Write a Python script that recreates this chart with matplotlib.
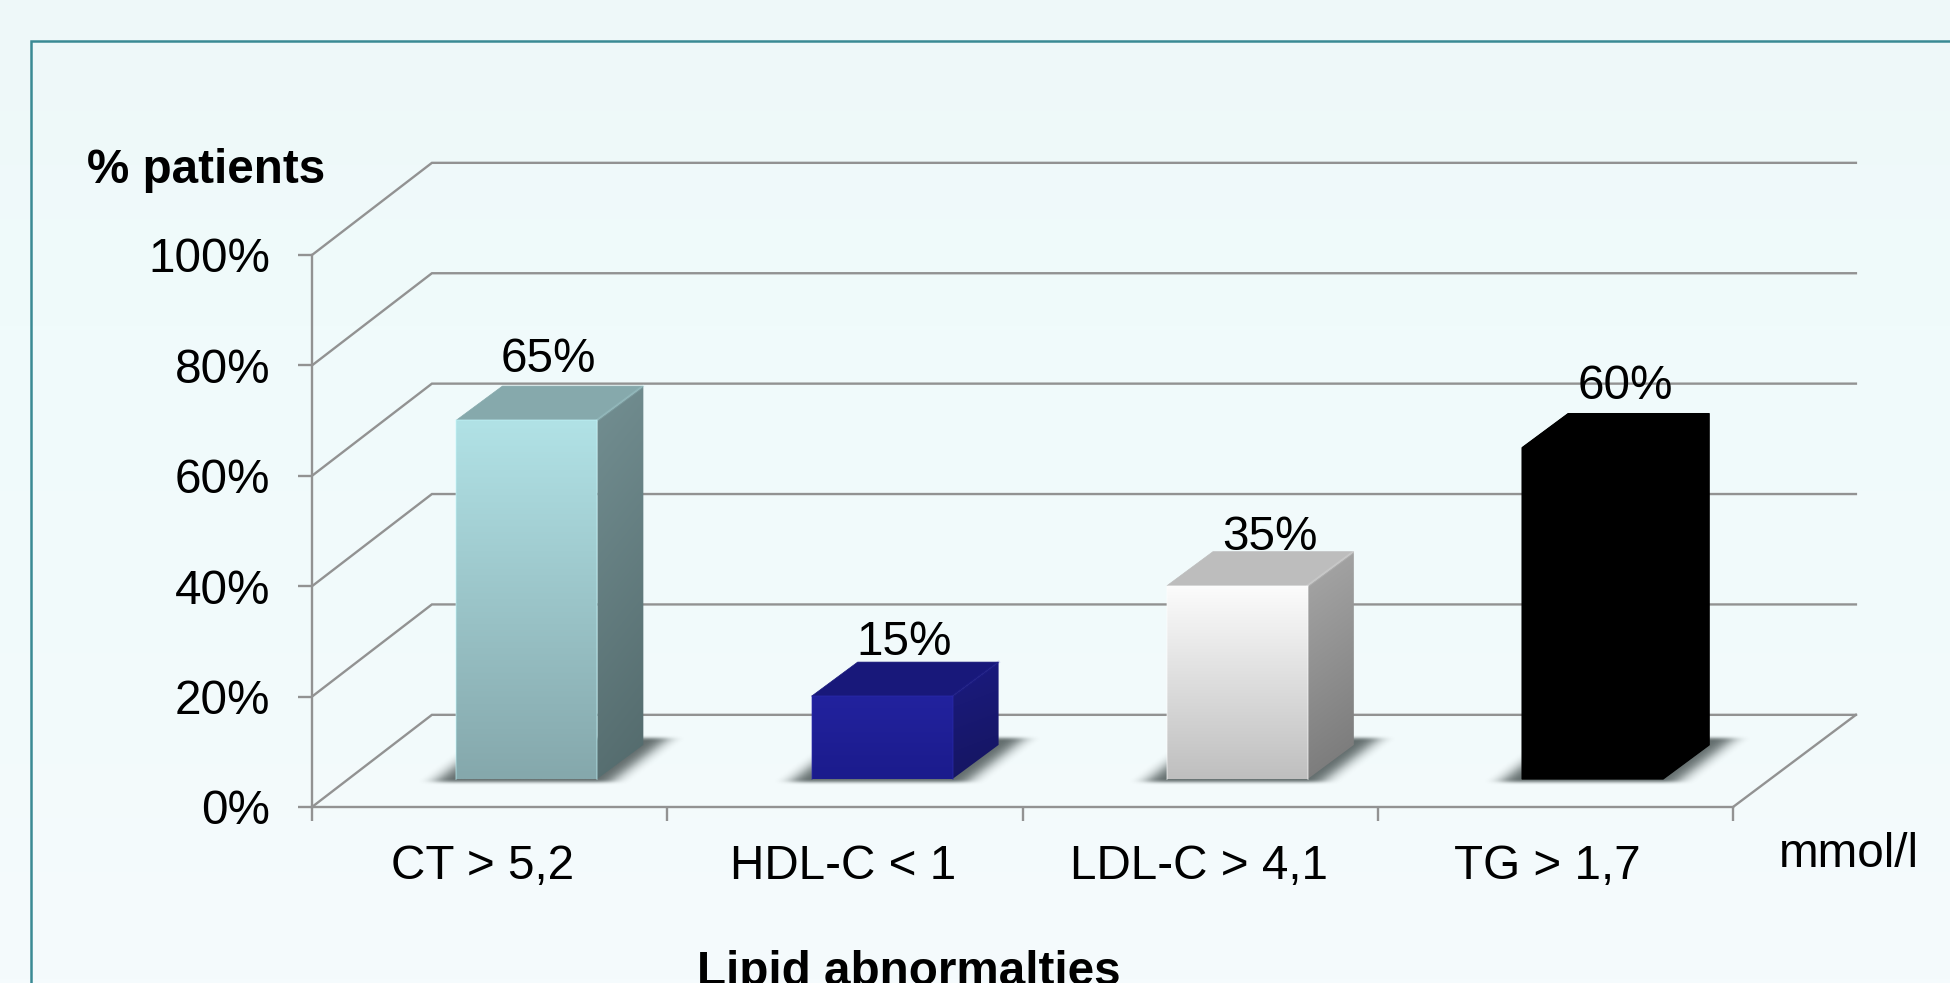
import numpy as np
import matplotlib
matplotlib.use('Agg')
import matplotlib.pyplot as plt
from matplotlib.colors import LinearSegmentedColormap, to_rgb
from matplotlib.patches import Polygon
from matplotlib.path import Path

plt.rcParams['font.family'] = ['Liberation Sans', 'DejaVu Sans']

categories = ['CT > 5,2', 'HDL-C < 1', 'LDL-C > 4,1', 'TG > 1,7']
values = [65, 15, 35, 60]
y_ticks = [0, 20, 40, 60, 80, 100]
y_tick_labels = ['0%', '20%', '40%', '60%', '80%', '100%']

# front gradient (top, bottom), top face, side gradient (top, bottom)
front_colors = [('#b1e2e6', '#85a8ac'), ('#22229e', '#1b1b8c'), ('#fcfcfc', '#bfbfbf'), ('#000000', '#000000')]
top_colors = ['#86a9ac', '#18187a', '#bdbdbd', '#000000']
side_colors = [('#738f92', '#536a6c'), ('#1b1b80', '#15155f'), ('#a8a8a8', '#777777'), ('#000000', '#000000')]

W, H = 1950, 983
GRID = '#929292'
FONT = 34.3

# oblique projection, one depth unit moves right and up by the floor's depth
FLOOR_DX = 120 / 355.5
FLOOR_DX_RIGHT = 123 / 355.5
FLOOR_DY = 92 / 5.51
BAR_WIDTH = 141 / 355.5
BAR_OFFSET = (144 - 36) / 355.5
BAR_FRONT = 28 / 92
BAR_BACK = (28 + 34) / 92
BAR_SKEW = 1.7 / 355.5

# label placement in axis units
value_dx = [0.164, 0.168, 0.198, 0.196]
value_dy = [13.8, 12.6, 11.5, 14.0]
category_dx = [-0.02, -0.006, -0.003, -0.022]


def project(x, y, d):
    return x + d * FLOOR_DX, y + d * FLOOR_DY


def gradient_patch(ax, corners, c0, c1, angle=0.0, zorder=3):
    # fill a polygon with a linear gradient running from top to bottom
    xs, ys = zip(*corners)
    grad = np.linspace(0, 1, 200)[:, None]
    if angle:
        u = np.linspace(0, 1, 60)
        grad = (grad + angle * u[None, :]) / (1 + angle)
    cmap = LinearSegmentedColormap.from_list('g', [c0, c1])
    poly = Polygon(corners, closed=True, transform=ax.transData, fc='none', ec='none')
    ax.add_patch(poly)
    im = ax.imshow(grad, cmap=cmap, vmin=0, vmax=1, aspect='auto', origin='upper',
                   extent=(min(xs), max(xs), min(ys), max(ys)), zorder=zorder,
                   interpolation='bilinear')
    im.set_clip_path(poly)


def box_blur(a, nx, ny):
    kx = np.ones(nx) / nx
    ky = np.ones(ny) / ny
    for _ in range(2):
        a = np.apply_along_axis(lambda r: np.convolve(r, ky, mode='same'), 0, a)
        a = np.apply_along_axis(lambda r: np.convolve(r, kx, mode='same'), 1, a)
    return a


def floor_shadow(ax, i):
    # soft shadow lying on the floor, wide fade sideways and a tight one in depth
    left = i + BAR_OFFSET
    right = left + BAR_WIDTH
    d0 = BAR_FRONT - 0.035
    d1 = BAR_BACK + 0.075
    outline = [project(left - 0.05, 0, d0), project(right + 0.05, 0, d0),
               project(right + 0.05, 0, d1), project(left - 0.05, 0, d1)]
    xs, ys = zip(*outline)
    ex = (min(xs) - 0.2, max(xs) + 0.2, min(ys) - 3, max(ys) + 3)
    gx, gy = np.meshgrid(np.linspace(ex[0], ex[1], 480), np.linspace(ex[2], ex[3], 110))
    inside = Path(outline).contains_points(np.c_[gx.ravel(), gy.ravel()]).reshape(gx.shape)
    alpha = box_blur(inside.astype(float), 25, 5)
    rgba = np.zeros(gx.shape + (4,))
    rgba[..., :3] = to_rgb('#4a5555')
    rgba[..., 3] = alpha * 0.85
    ax.imshow(rgba, origin='lower', aspect='auto', extent=ex, zorder=2,
              interpolation='bilinear', clip_on=False)


def draw_bar(ax, i, value):
    left = i + BAR_OFFSET
    right = left + BAR_WIDTH
    fb_l = project(left, 0, BAR_FRONT)
    fb_r = project(right, 0, BAR_FRONT)
    ft_l = project(left, value, BAR_FRONT)
    ft_r = project(right, value, BAR_FRONT)
    bb_r = project(right + BAR_SKEW, 0, BAR_BACK)
    bt_l = project(left + BAR_SKEW, value, BAR_BACK)
    bt_r = project(right + BAR_SKEW, value, BAR_BACK)

    floor_shadow(ax, i)
    gradient_patch(ax, [fb_r, bb_r, bt_r, ft_r], side_colors[i][0], side_colors[i][1], angle=0.15)
    ax.add_patch(Polygon([ft_l, ft_r, bt_r, bt_l], closed=True, fc=top_colors[i],
                         ec=top_colors[i], lw=0.5, zorder=3))
    gradient_patch(ax, [fb_l, fb_r, ft_r, ft_l], front_colors[i][0], front_colors[i][1], zorder=4)

    if i == 3:
        # black bar reads as one silhouette with rounded corners
        ax.add_patch(Polygon([fb_l, fb_r, bb_r, bt_r, bt_l, ft_l], closed=True, fc='black',
                             ec='black', lw=1, joinstyle='round', zorder=5))
    else:
        # faint lighter rim on the front face and on the top's right ridge
        edge = tuple(min(1, c * 1.06 + 0.03) for c in to_rgb(front_colors[i][0]))
        ax.plot([fb_l[0], ft_l[0], ft_r[0], fb_r[0]], [fb_l[1], ft_l[1], ft_r[1], fb_r[1]],
                color=edge, lw=1.2, alpha=0.4, solid_joinstyle='round', zorder=5)
        ax.plot([ft_r[0], bt_r[0]], [ft_r[1], bt_r[1]], color=edge, lw=2, alpha=0.15, zorder=5)


fig = plt.figure(figsize=(W / 100, H / 100), dpi=100)

# page background and frame
bg = fig.add_axes([0, 0, 1, 1], zorder=0)
bg_cmap = LinearSegmentedColormap.from_list('bg', ['#eef8f9', '#f0fbfb', '#f2fafb', '#f5fbfd'])
bg.imshow(np.linspace(0, 1, 256)[:, None], cmap=bg_cmap, aspect='auto', extent=(0, W, H, 0))
bg.plot([31, 31, W], [H, 41, 41], color='#3a8a94', lw=1.8, solid_joinstyle='miter')
bg.set_xlim(0, W)
bg.set_ylim(H, 0)
bg.axis('off')

ax = fig.add_axes([312 / W, (H - 807) / H, (1733 - 312) / W, (807 - 255) / H], zorder=1)
ax.patch.set_alpha(0)

n = len(categories)

# back wall gridlines, side wall diagonals, floor edge
for t in y_ticks:
    bx, by = project(0, t, 1)
    ex = n + FLOOR_DX_RIGHT
    ax.plot([0, bx, ex], [t, by, by], color=GRID, lw=1.7, zorder=1, clip_on=False,
            solid_joinstyle='miter')
fy = project(n, 0, 1)[1]
ax.plot([n, n + FLOOR_DX_RIGHT], [0, fy], color=GRID, lw=1.7, zorder=1, clip_on=False)

for i, v in enumerate(values):
    draw_bar(ax, i, v)
    ax.text(i + 0.5 + value_dx[i], v + value_dy[i], f'{v}%', ha='center', va='baseline',
            fontsize=FONT, color='black', zorder=6)
    ax.annotate(categories[i], (i + 0.5 + category_dx[i], 0), xytext=(0, -51.5),
                textcoords='offset points', ha='center', va='baseline', fontsize=FONT,
                annotation_clip=False)

ax.set_xlim(0, n)
ax.set_ylim(0, 100)
for side in ('top', 'right'):
    ax.spines[side].set_visible(False)
for side in ('left', 'bottom'):
    ax.spines[side].set_color(GRID)
    ax.spines[side].set_linewidth(1.7)
ax.set_xticks(np.arange(n + 1))
ax.set_xticklabels([])
ax.set_yticks(y_ticks)
ax.set_yticklabels(y_tick_labels, fontsize=FONT)
ax.tick_params(axis='x', length=10, width=1.7, color=GRID)
ax.tick_params(axis='y', length=10, width=1.7, color=GRID, pad=19.8)

fig.text(87 / W, 1 - 183 / H, '% patients', fontsize=FONT, fontweight='bold', va='baseline')
fig.text(1779 / W, 1 - 867 / H, 'mmol/l', fontsize=FONT, va='baseline')
fig.text(909 / W, 1 - 985 / H, 'Lipid abnormalties', fontsize=FONT, fontweight='bold',
         ha='center', va='baseline')

fig.savefig('out.png', dpi=100)
